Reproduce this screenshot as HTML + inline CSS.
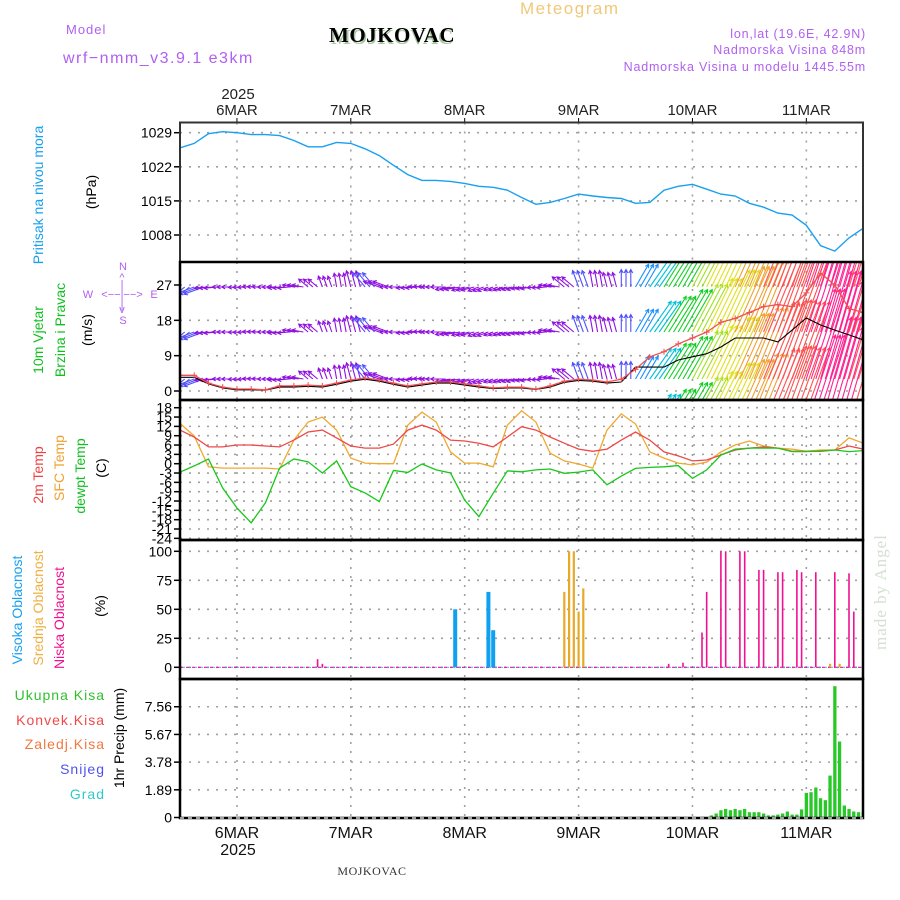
<!DOCTYPE html>
<html><head><meta charset="utf-8"><title>Meteogram MOJKOVAC</title>
<style>
html,body{margin:0;padding:0;background:#fff;}
svg{display:block;font-family:"Liberation Sans",sans-serif;}
</style></head>
<body>
<svg id="chart" width="900" height="900" viewBox="0 0 900 900" xmlns="http://www.w3.org/2000/svg">
  <defs>
    <clipPath id="clipP"><rect x="180" y="123" width="683" height="139"/></clipPath>
    <clipPath id="clipW"><rect x="181" y="263" width="682" height="137"/></clipPath>
    <clipPath id="clipT"><rect x="181" y="401" width="682" height="139"/></clipPath>
    <clipPath id="clipC"><rect x="181" y="541" width="682" height="138"/></clipPath>
    <clipPath id="clipR"><rect x="181" y="679" width="682" height="139"/></clipPath>
  </defs>
  <!-- header -->
  <text x="520" y="14" font-size="17" fill="#f0c878" letter-spacing="1.5">Meteogram</text>
  <text x="66" y="34" font-size="13" fill="#b060f0" letter-spacing="1">Model</text>
  <text x="63" y="63" font-size="16" fill="#b060f0" letter-spacing="1.5">wrf−nmm_v3.9.1 e3km</text>
  <text x="331" y="44" font-size="21" font-weight="bold" fill="#a8c8a0" font-family="Liberation Serif, serif">MOJKOVAC</text>
  <text x="329" y="42" font-size="21" font-weight="bold" fill="#000" font-family="Liberation Serif, serif" letter-spacing="0.5">MOJKOVAC</text>
  <text x="866" y="38" font-size="12.5" fill="#b060f0" text-anchor="end" letter-spacing="0.8">lon,lat (19.6E, 42.9N)</text>
  <text x="866" y="54" font-size="12.5" fill="#b060f0" text-anchor="end" letter-spacing="0.8">Nadmorska Visina 848m</text>
  <text x="866" y="71" font-size="12.5" fill="#b060f0" text-anchor="end" letter-spacing="0.8">Nadmorska Visina u modelu 1445.55m</text>
  <text x="238" y="99" font-size="15" fill="#222" text-anchor="middle">2025</text>
  <g id="topDays"></g>
  <g id="botDays"></g>
  <text x="238" y="855" font-size="16" fill="#111" text-anchor="middle">2025</text>
  <text x="372" y="875" font-size="12" fill="#333" text-anchor="middle" font-family="Liberation Serif, serif" letter-spacing="0.5">MOJKOVAC</text>
  <text transform="translate(886,650) rotate(-90)" font-size="17" fill="#d4e0d0" font-family="Liberation Serif, serif" letter-spacing="1">made by Angel</text>

  <!-- axis titles -->
  <text transform="translate(43,195) rotate(-90)" font-size="14" fill="#18a0f0" text-anchor="middle">Pritisak na nivou mora</text>
  <text transform="translate(96,192) rotate(-90)" font-size="14" fill="#000" text-anchor="middle">(hPa)</text>
  <text transform="translate(43,340) rotate(-90)" font-size="14" fill="#10c020" text-anchor="middle">10m Vjetar</text>
  <text transform="translate(65,330) rotate(-90)" font-size="14" fill="#10c020" text-anchor="middle">Brzina i Pravac</text>
  <text transform="translate(92,330) rotate(-90)" font-size="14" fill="#000" text-anchor="middle">(m/s)</text>
  <g font-size="11" fill="#b060f0" text-anchor="middle">
    <text x="123" y="270">N</text><text x="122" y="281">^</text><text x="122" y="288">|</text>
    <text x="88" y="298">W</text><text x="122" y="298">&lt;−−|−−&gt;</text><text x="154" y="298">E</text>
    <text x="122" y="308">|</text><text x="122" y="313">v</text><text x="123" y="324">S</text>
  </g>
  <text transform="translate(43,475) rotate(-90)" font-size="14" fill="#f04040" text-anchor="middle">2m Temp</text>
  <text transform="translate(64,468) rotate(-90)" font-size="14" fill="#f0a030" text-anchor="middle">SFC Temp</text>
  <text transform="translate(85,476) rotate(-90)" font-size="14" fill="#10c020" text-anchor="middle">dewpt Temp</text>
  <text transform="translate(106,468) rotate(-90)" font-size="14" fill="#000" text-anchor="middle">(C)</text>
  <text transform="translate(22,610) rotate(-90)" font-size="14" fill="#18a0f0" text-anchor="middle">Visoka Oblacnost</text>
  <text transform="translate(43,608) rotate(-90)" font-size="14" fill="#f0b040" text-anchor="middle">Srednja Oblacnost</text>
  <text transform="translate(64,618) rotate(-90)" font-size="14" fill="#f01090" text-anchor="middle">Niska Oblacnost</text>
  <text transform="translate(105,606) rotate(-90)" font-size="14" fill="#000" text-anchor="middle">(%)</text>
  <g font-size="14" text-anchor="end" letter-spacing="1">
    <text x="105" y="700" fill="#30c030">Ukupna  Kisa</text>
    <text x="105" y="725" fill="#f04848">Konvek.Kisa</text>
    <text x="105" y="749" fill="#f07840">Zaledj.Kisa</text>
    <text x="105" y="774" fill="#5050f0">Snijeg</text>
    <text x="105" y="799" fill="#30c8c8">Grad</text>
  </g>
  <text transform="translate(124,738) rotate(-90)" font-size="14" fill="#000" text-anchor="middle">1hr Precip (mm)</text>

  <g id="grid"></g>
  <g id="marks"></g>
  <g id="frames"></g>
</svg>
<script>
// ---------- data ----------
const dayLabels = ["6MAR","7MAR","8MAR","9MAR","10MAR","11MAR"];
const dayHours = [12,36,60,84,108,132];
const hours3 = [0,3,6,9,12,15,18,21,24,27,30,33,36,39,42,45,48,51,54,57,60,63,66,69,72,75,78,81,84,87,90,93,96,99,102,105,108,111,114,117,120,123,126,129,132,135,138,141,144];
const pressure = [1025.9,1026.8,1028.8,1029.2,1029,1028.6,1028.6,1028.4,1027.4,1026.1,1026.1,1027,1026.8,1025.7,1024.3,1022.3,1020.4,1019.2,1019.2,1019,1018.6,1018,1017.8,1017.2,1015.7,1014.3,1014.7,1015.5,1016.4,1016,1015.7,1015.5,1014.5,1014.7,1017.2,1018,1018.4,1017.4,1016.4,1016,1014.5,1013.7,1012.5,1012.1,1010,1005.8,1004.7,1007.4,1009.4];
const pressureTicks = [1029,1022,1015,1008];
const windSpeed = [4,4,2,1,0.5,0.5,0.3,1.3,1.3,1.5,1.3,2,2.8,3.3,2.8,2,1.3,1.8,2.3,2.3,1.8,1.3,0.8,1,1,0.5,1.3,2.5,3,2.8,2.3,3,5.5,8.7,10,12,13.5,15,17.5,18.5,20,21.5,22,21.5,25,30,27,21,20];
const windGust = [3.5,3.5,1.8,0.8,0.3,0.3,0.2,1,1,1.2,1,1.7,2.5,3,2.5,1.7,1,1.5,2,2,1.5,1,0.6,0.8,0.8,0.4,1,2.2,2.7,2.5,2,2.3,6.1,6.1,6.1,7.9,8.7,9.5,11.2,13.5,13.5,13.5,12.5,15.5,18.6,16.8,15.5,14.3,13];
const windDir = [220,200,185,180,182,178,180,185,170,140,110,100,105,130,160,180,185,178,180,190,195,200,200,195,190,185,170,140,110,100,105,90,60,55,58,60,62,64,65,66,68,68,70,70,72,74,74,73,72];
const windTicks = [27,18,9,0];
const temp2m = [10.8,8.6,5.4,5.4,6,6,5.7,5.4,7.6,10.2,10.8,8.3,5.7,5,5,6.3,10.8,12.4,10.8,7.6,7.3,6.6,5.4,8.6,11.9,10.8,8.6,6.6,4.7,4,4.7,7.6,10.2,7.6,3.8,2.5,0.9,1.2,2.8,4.4,5,5.4,5,4,4,4,4.4,5.7,4.7];
const tempSfc = [13,8.9,-1,-1.4,-1.4,-1.4,-1.4,-1.7,7.6,13.4,15,10.8,1.8,0.2,0,0,12.4,16.6,13.4,3.8,0.2,0.2,-1,12.4,17,13.4,3.4,0.9,-0.1,-1.4,10.8,16,12.8,3.8,1.8,0.2,-0.4,0.5,3.8,6,7.3,5.7,5,4.7,4,4.4,4.4,8.3,6.6];
const tempDew = [-2.7,-0.7,1.5,-7.8,-14.2,-19,-12.6,-1.4,1.5,0.6,-3,0.9,-7.4,-9.4,-12.2,-2.2,-2.8,-0.1,-2,-3,-11.7,-17,-9.5,-2.3,-2.6,-2,-1.7,-3.1,-2.7,-2,-6.8,-4,-1.5,-1.2,-1,-0.6,-4.7,-2,2.8,4.7,5,5,5,3.9,3.9,4.1,4.4,3.9,4.2];
const tempTicks = [18,15,12,9,6,3,0,-3,-6,-9,-12,-15,-18,-21,-24];
const highCloudHours = [58,65,66];
const highCloud = [50,65,32];
const midCloudHours = [81,82,83,84,85,137,139];
const midCloud = [65,100,100,48,68,3,3];
const lowCloudHours = [29,30,103,106,110,111,114,115,118,119,122,123,126,127,130,131,134,138,141,142];
const lowCloud = [7,3,3,4,30,65,100,100,100,100,84,84,82,82,84,82,82,82,81,48];
const cloudTicks = [100,75,50,25,0];
const precipHours = [112,113,114,115,116,117,118,119,120,121,122,123,124,125,126,127,128,129,130,131,132,133,134,135,136,137,138,139,140,141,142,143,144];
const precipTotal = [0.14,0.27,0.5,0.59,0.5,0.59,0.5,0.59,0.36,0.36,0.36,0.27,0.14,0.14,0.2,0.27,0.41,0.2,0.2,0.55,1.68,1.73,2.05,1.32,1.18,2.86,8.96,5.19,0.82,0.59,0.41,0.36,0.36];
const precipTicks = [7.56,5.67,3.78,1.89,0];

// ---------- scales ----------
const NS = "http://www.w3.org/2000/svg";
const X0 = 180, X1 = 863, PXH = 4.745;
const xH = h => X0 + h * PXH;
const yP = p => 132.7 + (1029 - p) * (235 - 132.7) / 21;
const yW = v => 391 - v * (391 - 285) / 27;
const yT = t => 463.7 - t * 3.11;
const yC = c => 667.3 - c * 1.16;
const yR = r => 817.5 - r * 14.65;
const panels = [[122.5,262],[262,400],[400,540],[540,679],[679,818]];

function el(tag, attrs, parent){ const e=document.createElementNS(NS,tag); for(const k in attrs) e.setAttribute(k,attrs[k]); parent.appendChild(e); return e; }
const grid = document.getElementById('grid');
const marks = document.getElementById('marks');
const frames = document.getElementById('frames');

dayHours.forEach((h,i)=>{
  panels.forEach(([a,b])=>{
    const l = el('line',{x1:xH(h),x2:xH(h),y1:a,y2:b,stroke:'#a0a0a0','stroke-width':1.6,'stroke-dasharray':'2 7'},grid);
    
    
  });
  const t1 = el('text',{x:xH(h),y:115,'font-size':15,fill:'#222','text-anchor':'middle'},document.getElementById('topDays'));
  t1.textContent = dayLabels[i];
  
  
  const t2 = el('text',{x:xH(h),y:838,'font-size':16,fill:'#111','text-anchor':'middle'},document.getElementById('botDays'));
  t2.textContent = dayLabels[i];
  
  
  el('line',{x1:xH(h),x2:xH(h),y1:118,y2:123,stroke:'#000'},frames);
});

function yAxis(ticks, fy, fmt, fs){
  ticks.forEach(v=>{
    const y = fy(v);
    const g = el('line',{x1:X0,x2:X1,y1:y,y2:y,stroke:'#a0a0a0','stroke-width':1.6,'stroke-dasharray':'2 7'},grid);
    
    
    el('line',{x1:X0-6,x2:X0,y1:y,y2:y,stroke:'#000','stroke-width':1.5},frames);
    const t = el('text',{x:X0-8,y:y+5,'font-size':fs||14,fill:'#000','text-anchor':'end'},frames);
    t.textContent = fmt ? fmt(v) : v;
    
    
  });
}
yAxis(pressureTicks, yP);
yAxis(windTicks, yW);
yAxis(tempTicks, yT, null, 14);
yAxis(cloudTicks, yC);
yAxis(precipTicks, yR, v => v===0 ? '0' : v.toFixed(2));

panels.forEach(([a,b],i)=>{
  const r = el('rect',{x:X0,y:a,width:X1-X0,height:b-a,fill:'none',stroke:i===0?'#333':'#000','stroke-width':i===0?2:2.5},frames);
  
  
});
el('line',{x1:X0,x2:X1,y1:818,y2:818,stroke:'#fff','stroke-width':1.2,'stroke-dasharray':'4 4'},frames);

function polyline(xs, ys, fx, fy, color, clip, name, w){
  const pts = xs.map((h,i)=>xH(h).toFixed(1)+','+fy(ys[i]).toFixed(1)).join(' ');
  const p = el('polyline',{points:pts,fill:'none',stroke:color,'stroke-width':w||1.3,'clip-path':'url(#'+clip+')'},marks);
  
  
  return p;
}

polyline(hours3, pressure, xH, yP, '#18a0f0', 'clipP', 'pressure-line', 1.4);

function spdColor(s){
  if(s<3) return '#9010e0';
  if(s<5) return '#5050ff';
  if(s<7) return '#1890ff';
  if(s<10) return '#00c0d8';
  if(s<12.5) return '#10d020';
  if(s<15) return '#a0e020';
  if(s<18) return '#e0e020';
  if(s<21) return '#f0a030';
  if(s<25) return '#ff5050';
  return '#ff2090';
}
const wg = el('g',{'clip-path':'url(#clipW)'},marks);


const rowBase = [287,332,379,425];
for(let i=0;i<hours3.length;i++){
  for(let k=0;k<3;k++){
    const h = hours3[i]+k;
    if(h>144) break;
    const s = windSpeed[i], d = windDir[i]*Math.PI/180;
    const L = 7 + 3.5*s;
    const col = spdColor(s);
    rowBase.forEach(by=>{
      const x = xH(h), y = by;
      const tx = x + L*Math.cos(d), ty = y - L*Math.sin(d);
      const a = el('path',{d:`M${x.toFixed(1)},${y} L${tx.toFixed(1)},${ty.toFixed(1)} M${(tx-4*Math.cos(d-0.5)).toFixed(1)},${(ty+4*Math.sin(d-0.5)).toFixed(1)} L${tx.toFixed(1)},${ty.toFixed(1)} L${(tx-4*Math.cos(d+0.5)).toFixed(1)},${(ty+4*Math.sin(d+0.5)).toFixed(1)}`,stroke:col,'stroke-width':1.1,fill:'none'},wg);
      
      
    });
  }
}
polyline(hours3, windGust, xH, yW, '#000', 'clipW', 'wind-gust-line', 1.1);
polyline(hours3, windSpeed, xH, yW, '#f05050', 'clipW', 'wind-speed-line', 1.3);
const cg = el('g',{'clip-path':'url(#clipW)',stroke:'#f05050','stroke-width':1},marks);


hours3.forEach((h,i)=>{
  const x=xH(h), y=yW(windSpeed[i]);
  const m = el('path',{d:`M${x-3},${y} h6 M${x},${y-3} v6`},cg);
  
  
});

polyline(hours3, tempSfc, xH, yT, '#f0a830', 'clipT', 'sfc-temp-line', 1.3);
polyline(hours3, temp2m, xH, yT, '#f04848', 'clipT', 'temp-2m-line', 1.3);
polyline(hours3, tempDew, xH, yT, '#18c818', 'clipT', 'dewpoint-line', 1.3);

const zl = el('line',{x1:X0,x2:X1,y1:yC(0),y2:yC(0),stroke:'#f01090','stroke-width':1.2,'stroke-dasharray':'3 3'},marks);


el('line',{x1:X0+3,x2:X1,y1:yC(0),y2:yC(0),stroke:'#18a0f0','stroke-width':1.2,'stroke-dasharray':'2 4','opacity':0.7},marks);
function bars(hs, vals, fy, y0, w, color, clip, name){
  const g = el('g',{'clip-path':'url(#'+clip+')'},marks);
  
  
  hs.forEach((h,i)=>{
    const yt = fy(vals[i]);
    const b = el('rect',{x:(xH(h)-w/2).toFixed(1),y:yt.toFixed(1),width:w,height:Math.max(0,y0-yt).toFixed(1),fill:color},g);
    
    
  });
}
bars(highCloudHours, highCloud, yC, yC(0), 4, '#10a0f0', 'clipC', 'high-cloud-bar');
bars(midCloudHours, midCloud, yC, yC(0), 2.2, '#e8a828', 'clipC', 'mid-cloud-bar');
bars(lowCloudHours, lowCloud, yC, yC(0), 1.6, '#f01090', 'clipC', 'low-cloud-bar');

bars(precipHours, precipTotal, yR, yR(0), 3.3, '#28c828', 'clipR', 'precip-bar');
</script>
</body></html>
